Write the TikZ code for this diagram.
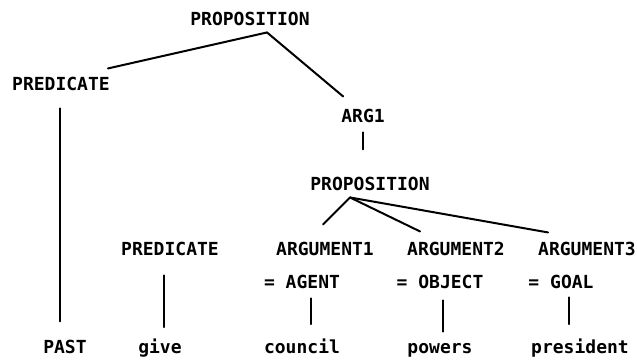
\documentclass[tikz,border=0pt]{standalone}
\usepackage{fontspec}
\setmonofont{DejaVu Sans Mono}
\tikzset{
  lbl/.style={font=\ttfamily\bfseries\fontsize{18}{20}\selectfont, inner sep=0pt, anchor=base},
  branch/.style={line width=2pt, line cap=round}
}

\begin{document}
\begin{tikzpicture}[x=1pt,y=1pt]
    \useasboundingbox (0,0) rectangle (637,360);
    \node[lbl] (prop1) at (250,335) {PROPOSITION};
    \node[lbl] (pred1) at (61,270) {PREDICATE};
    \node[lbl] (arg) at (363,238) {ARG1};
    \node[lbl] (prop2) at (370,170) {PROPOSITION};
    \node[lbl] (pred2) at (170,105) {PREDICATE};
    \node[lbl] (argA) at (325,105) {ARGUMENT1};
    \node[lbl] (argB) at (456,105) {ARGUMENT2};
    \node[lbl] (argC) at (587,105) {ARGUMENT3};
    \node[lbl] (agent) at (302,72) {= AGENT};
    \node[lbl] (object) at (440,72) {= OBJECT};
    \node[lbl] (goal) at (561,72) {= GOAL};
    \node[lbl] (past) at (65,7) {PAST};
    \node[lbl] (give) at (160,7) {give};
    \node[lbl] (council) at (302,7) {council};
    \node[lbl] (powers) at (440,7) {powers};
    \node[lbl] (president) at (580,7) {president};
    % branch points
    \coordinate (foot1) at ([xshift=17pt,yshift=-7pt]prop1.south);
    \coordinate (foot2) at ([xshift=-20pt,yshift=-7pt]prop2.south);
    \draw[branch] (foot1) -- ([xshift=-2pt,yshift=8pt]pred1.north east);
    \draw[branch] (foot1) -- ([xshift=2pt,yshift=12pt]arg.north west);
    \draw[branch] ([yshift=-10pt]arg.south) -- ([xshift=-7pt,yshift=27pt]prop2.north);
    \draw[branch] (foot2) -- ([xshift=-2pt,yshift=17pt]argA.north);
    \draw[branch] (foot2) -- ([xshift=13pt,yshift=10pt]argB.north west);
    \draw[branch] (foot2) -- ([xshift=10pt,yshift=9pt]argC.north west);
    % verticals down to the words
    \draw[branch] ([xshift=-1pt,yshift=-18pt]pred1.south) -- ([xshift=-5pt,yshift=18pt]past.north);
    \draw[branch] ([xshift=-6pt,yshift=-20pt]pred2.south) -- ([xshift=4pt,yshift=11pt]give.north);
    \draw[branch] ([xshift=9pt,yshift=-10pt]agent.south) -- ([xshift=9pt,yshift=14pt]council.north);
    \draw[branch] ([xshift=3pt,yshift=-12pt]object.south) -- ([xshift=3pt,yshift=11pt]powers.north);
    \draw[branch] ([xshift=8pt,yshift=-9pt]goal.south) -- ([xshift=-11pt,yshift=14pt]president.north);
\end{tikzpicture}
\end{document}
